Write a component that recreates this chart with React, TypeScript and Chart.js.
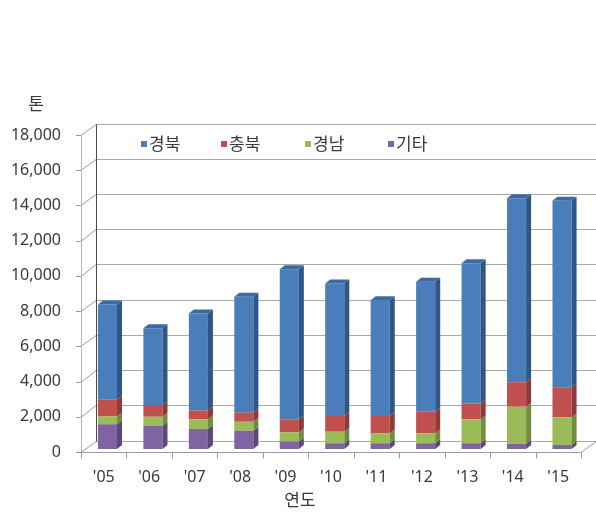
import React, { useEffect, useRef } from "react";
import { Chart, registerables } from "chart.js";

Chart.register(...registerables);

// ---- data ----
const categories = ["'05", "'06", "'07", "'08", "'09", "'10", "'11", "'12", "'13", "'14", "'15"];
const gyeongbuk = [5400, 4350, 5520, 6590, 8510, 7530, 6580, 7380, 7960, 10450, 10600];
const chungbuk = [950, 670, 490, 510, 760, 890, 980, 1230, 900, 1390, 1700];
const gyeongnam = [450, 530, 550, 510, 510, 660, 570, 570, 1370, 2100, 1570];
const gita = [1400, 1300, 1140, 1040, 420, 320, 320, 320, 320, 300, 230];
const yTicks = [0, 2000, 4000, 6000, 8000, 10000, 12000, 14000, 16000, 18000];
const legendNames = ["경북", "충북", "경남", "기타"];
const yUnit = "톤";
const xTitle = "연도";

// ---- styles ----
const FRONT = ["#4A7EBB", "#C0504D", "#9BBB59", "#8064A2"];
const SIDE = ["#2E5687", "#8E3A38", "#728C3E", "#5C4878"];
const TOP = ["#3C6AA3", "#A8433F", "#86A34A", "#6D5590"];
const FRONT_DX = -3.75, FRONT_DY = 3;
const BACK_DX = 11.25, BACK_DY = -8.5;
const BAR_DX = 5, BAR_DY = -4;
const TEXT = "#3a3a3a";
const NUM_FONT = "16px 'Noto Sans', 'Liberation Sans', sans-serif";
const KR_FONT = "17px 'Noto Sans CJK KR', sans-serif";

function seg(ctx: CanvasRenderingContext2D, x1: number, y1: number, x2: number, y2: number) {
  ctx.beginPath();
  ctx.moveTo(x1, y1);
  ctx.lineTo(x2, y2);
  ctx.stroke();
}

const frame3d = {
  id: "frame3d",
  beforeDatasetsDraw(chart: any) {
    const ctx: CanvasRenderingContext2D = chart.ctx;
    const xs = chart.scales.x;
    const ys = chart.scales.y;
    const n = categories.length;
    const fl = xs.left + FRONT_DX, fr = xs.right + FRONT_DX;
    const bl = xs.left + BACK_DX, br = xs.right + BACK_DX;
    const yf0 = Math.round(ys.getPixelForValue(0) + FRONT_DY) + 0.5;
    const yb0 = Math.round(ys.getPixelForValue(0) + BACK_DY) + 0.5;
    const ybTop = Math.round(ys.getPixelForValue(yTicks[yTicks.length - 1]) + BACK_DY) + 0.5;
    const yfTop = Math.round(ys.getPixelForValue(yTicks[yTicks.length - 1]) + FRONT_DY) + 0.5;
    ctx.save();
    ctx.lineWidth = 1;
    // back wall + side wall grid
    for (const v of yTicks) {
      const yb = Math.round(ys.getPixelForValue(v) + BACK_DY) + 0.5;
      const yf = Math.round(ys.getPixelForValue(v) + FRONT_DY) + 0.5;
      ctx.strokeStyle = "#a9a9a9";
      seg(ctx, bl, yb, br + 2, yb);
      ctx.strokeStyle = "#9a9a9a";
      seg(ctx, fl, yf, bl, yb);
      seg(ctx, fl - 5, yf, fl, yf);
    }
    // front-left axis line
    ctx.strokeStyle = "#b5b5b5";
    seg(ctx, Math.round(fl) + 0.5, yfTop, Math.round(fl) + 0.5, yf0);
    // back wall left edge
    ctx.strokeStyle = "#4a4a4a";
    seg(ctx, Math.round(bl) + 0.5, ybTop, Math.round(bl) + 0.5, yb0);
    // floor
    ctx.strokeStyle = "#9a9a9a";
    seg(ctx, fl, yf0, fr, yf0);
    seg(ctx, fr, yf0, br, yb0);
    // category ticks
    for (let k = 0; k <= n; k++) {
      const x = Math.round(fl + (k * (fr - fl)) / n) + 0.5;
      seg(ctx, x, yf0, x, yf0 + 6);
    }
    // y labels
    ctx.fillStyle = TEXT;
    ctx.font = NUM_FONT;
    ctx.textAlign = "right";
    ctx.textBaseline = "middle";
    for (const v of yTicks) {
      const yf = ys.getPixelForValue(v) + FRONT_DY;
      ctx.fillText(v.toLocaleString("en-US"), 61, yf);
    }
    // x labels
    ctx.textAlign = "center";
    for (let i = 0; i < n; i++) {
      ctx.fillText(categories[i], xs.getPixelForValue(i) + FRONT_DX, 477);
    }
    // titles
    ctx.font = KR_FONT;
    ctx.fillText(xTitle, 300, 500);
    ctx.fillText(yUnit, 36, 104);
    // legend
    const legendX = [141, 221, 305, 388];
    ctx.textAlign = "left";
    for (let j = 0; j < legendNames.length; j++) {
      ctx.fillStyle = FRONT[j];
      ctx.fillRect(legendX[j], 141, 6, 6);
      ctx.fillStyle = TEXT;
      ctx.fillText(legendNames[j], legendX[j] + 8, 144);
    }
    ctx.restore();
  },
  afterDatasetsDraw(chart: any) {
    const ctx: CanvasRenderingContext2D = chart.ctx;
    const nds = chart.data.datasets.length;
    ctx.save();
    for (let d = 0; d < nds; d++) {
      const meta = chart.getDatasetMeta(d);
      const colorIdx = nds - 1 - d;
      meta.data.forEach((el: any) => {
        const p = el.getProps(["x", "y", "base", "width"], true);
        const left = p.x - p.width / 2;
        const right = p.x + p.width / 2;
        const top = Math.min(p.y, p.base);
        const bottom = Math.max(p.y, p.base);
        // side face
        ctx.fillStyle = SIDE[colorIdx];
        ctx.beginPath();
        ctx.moveTo(right, bottom);
        ctx.lineTo(right, top);
        ctx.lineTo(right + BAR_DX, top + BAR_DY);
        ctx.lineTo(right + BAR_DX, bottom + BAR_DY);
        ctx.closePath();
        ctx.fill();
        if (d === nds - 1) {
          ctx.fillStyle = TOP[colorIdx];
          ctx.beginPath();
          ctx.moveTo(left, top);
          ctx.lineTo(left + BAR_DX, top + BAR_DY);
          ctx.lineTo(right + BAR_DX, top + BAR_DY);
          ctx.lineTo(right, top);
          ctx.closePath();
          ctx.fill();
        }
      });
    }
    ctx.restore();
  },
};

export default function App() {
  const ref = useRef<HTMLCanvasElement | null>(null);
  useEffect(() => {
    if (!ref.current) return;
    const chart = new Chart(ref.current, {
      type: "bar",
      data: {
        labels: categories,
        datasets: [
          { label: legendNames[3], data: gita, backgroundColor: FRONT[3] },
          { label: legendNames[2], data: gyeongnam, backgroundColor: FRONT[2] },
          { label: legendNames[1], data: chungbuk, backgroundColor: FRONT[1] },
          { label: legendNames[0], data: gyeongbuk, backgroundColor: FRONT[0] },
        ],
      },
      options: {
        responsive: false,
        animation: false,
        layout: { padding: { left: 84.75, right: 11.25, top: 132, bottom: 71 } },
        datasets: { bar: { categoryPercentage: 1, barPercentage: 0.42, borderWidth: 0 } },
        scales: {
          x: { stacked: true, display: false },
          y: { stacked: true, display: false, min: 0, max: 18000 },
        },
        plugins: { legend: { display: false }, tooltip: { enabled: false } },
      },
      plugins: [frame3d],
    } as any);
    return () => chart.destroy();
  }, []);
  return (
    <canvas
      ref={ref}
      width={596}
      height={520}
      style={{ position: "absolute", left: 0, top: 0, background: "#fff" }}
    />
  );
}
